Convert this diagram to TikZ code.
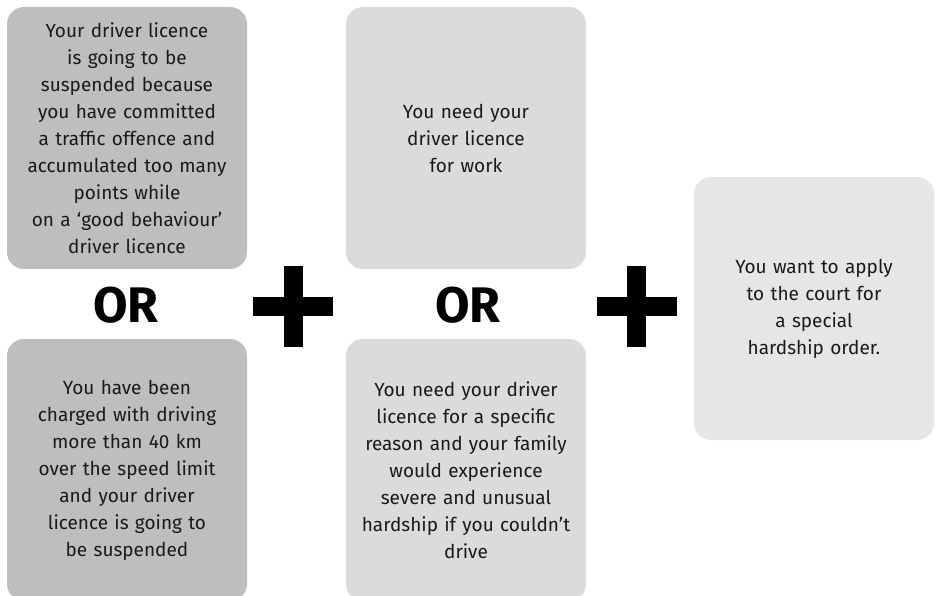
\documentclass[tikz,border=0pt]{standalone}
\usepackage{fontspec}
\setmainfont{Fira Sans}

\definecolor{cardDark}{HTML}{BDBEC0}
\definecolor{cardMid}{HTML}{DADBDD}
\definecolor{cardLight}{HTML}{E6E6E7}
\definecolor{inkText}{HTML}{1A1A1A}

\begin{document}
\begin{tikzpicture}[x=1pt,y=-1pt,
    card/.style={rounded corners=17pt, minimum width=240pt, minimum height=262pt,
      inner sep=0pt, text width=236pt, align=center, text=inkText,
      font=\fontsize{19}{27}\selectfont},
    ortext/.style={font=\fontsize{50}{50}\selectfont\bfseries},
    plus/.pic={
      \fill (-9.5,-40) rectangle (9.5,40);
      \fill (-40,-9.5) rectangle (40,9.5);
    }]
  \useasboundingbox (0,0) rectangle (935,596);
  \clip (0,0) rectangle (935,596);

  % left column
  \node[card, fill=cardDark] (goodbehaviour) at (127,138)
    {Your driver licence\\is going to be\\suspended because\\you have committed\\a traffic offence and\\accumulated too many\\points while\\on a ‘good behaviour’\\driver licence};
  \node[ortext] (orleft) at (126,305.5) {OR};
  \node[card, fill=cardDark] (speeding) at (127,470)
    {You have been\\charged with driving\\more than 40 km\\over the speed limit\\and your driver\\licence is going to\\be suspended};

  % middle column
  \node[card, fill=cardMid] (work) at (466,138)
    {You need your\\driver licence\\for work};
  \node[ortext] (ormid) at (468,305.5) {OR};
  \node[card, fill=cardMid] (family) at (466,470)
    {You need your driver\\licence for a specific\\reason and your family\\would experience\\severe and unusual\\hardship if you couldn’t\\drive};

  % right column
  \node[card, fill=cardLight, minimum width=240pt, minimum height=263pt] (apply) at (814,308.5)
    {You want to apply\\to the court for\\a special\\hardship order.};

  % plus signs between the columns
  \pic at (293,306.5) {plus};
  \pic at (636.5,306.5) {plus};
\end{tikzpicture}
\end{document}
